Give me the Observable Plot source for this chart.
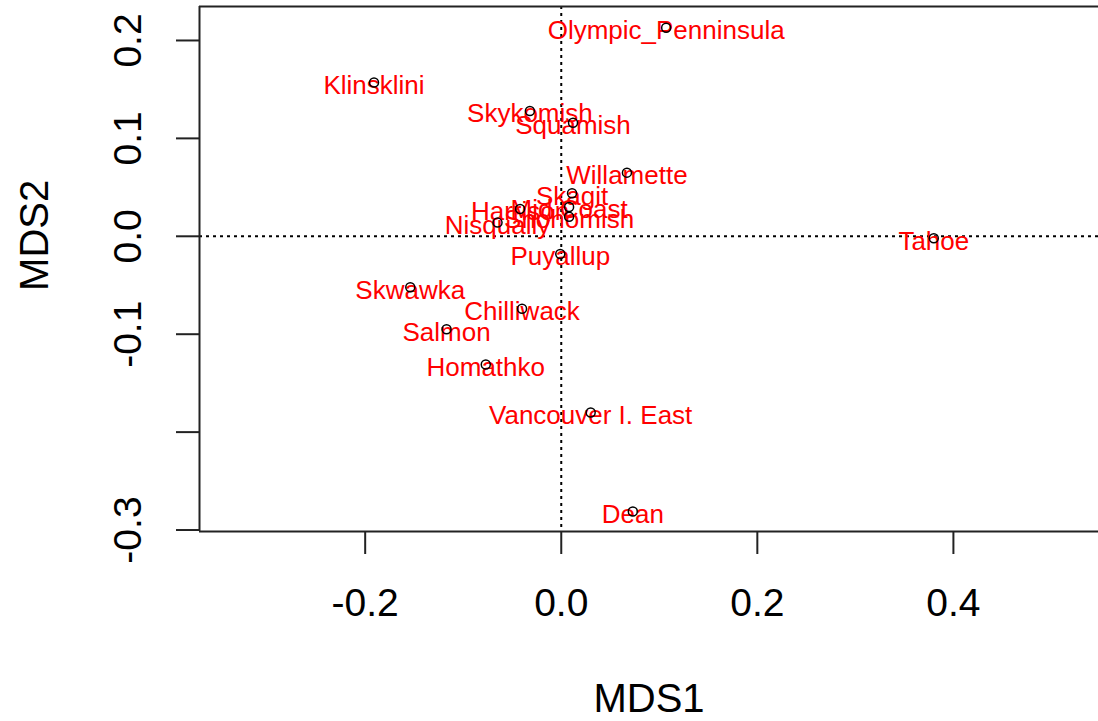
<!DOCTYPE html>
<html>
<head>
<meta charset="utf-8">
<script src="https://cdn.jsdelivr.net/npm/d3@7"></script>
<script src="https://cdn.jsdelivr.net/npm/@observablehq/plot@0.6"></script>
<style>
  html, body { margin: 0; padding: 0; background: white; }
</style>
</head>
<body>
<div id="chart"></div>
<script>
const names = ["Olympic_Penninsula", "Klinsklini", "Skykomish", "Squamish", "Willamette",
  "Skagit", "Harrison", "Mid Coast", "Nisqually", "Snohomish", "Puyallup", "Tahoe",
  "Skwawka", "Chilliwack", "Salmon", "Homathko", "Vancouver I. East", "Dean"];
const mds1 = [0.107, -0.191, -0.032, 0.012, 0.067,
  0.011, -0.042, 0.008, -0.065, 0.008, -0.001, 0.380,
  -0.154, -0.040, -0.117, -0.077, 0.030, 0.073];
const mds2 = [0.213, 0.157, 0.128, 0.116, 0.065,
  0.044, 0.028, 0.030, 0.014, 0.020, -0.018, -0.002,
  -0.052, -0.074, -0.095, -0.131, -0.180, -0.281];

const xTicks = [-0.2, 0.0, 0.2, 0.4];
const yTicks = [0.2, 0.1, 0.0, -0.1, -0.2, -0.3];
const yTickLabels = [0.2, 0.1, 0.0, -0.1, -0.3];

const xDomain = [-0.369, 0.548];
const yDomain = [-0.3015, 0.2347];

const data = names.map((n, i) => ({name: n, x: mds1[i], y: mds2[i]}));
const fmt = d => d.toFixed(1);

const chart = Plot.plot({
  width: 1098,
  height: 721,
  marginLeft: 199,
  marginTop: 6,
  marginRight: 0,
  marginBottom: 190,
  style: {fontFamily: "'Liberation Sans', Arial, sans-serif", background: "white", color: "black"},
  x: {domain: xDomain},
  y: {domain: yDomain},
  marks: [
    Plot.ruleX([0], {strokeDasharray: "3,4", strokeWidth: 2, stroke: "black"}),
    Plot.ruleY([0], {strokeDasharray: "3,4", strokeWidth: 2, stroke: "black"}),
    Plot.ruleX([xDomain[0]], {strokeWidth: 2, stroke: "#222"}),
    Plot.ruleY(yDomain, {strokeWidth: 2, stroke: "#222"}),
    Plot.axisX(xTicks, {tickSize: 23, tickPadding: 34, fontSize: 39, tickFormat: fmt, label: null, strokeWidth: 2, stroke: "#222", fill: "black"}),
    Plot.axisY(yTicks, {tickSize: 23, tickFormat: () => "", label: null, strokeWidth: 2, stroke: "#222"}),
    Plot.text(yTickLabels, {y: d => d, text: fmt, frameAnchor: "left", dx: -71, rotate: -90, fontSize: 39, fill: "black", textAnchor: "middle", lineAnchor: "middle"}),
    Plot.text(["MDS1"], {text: d => d, frameAnchor: "bottom", dy: 168, fontSize: 40, fill: "black", textAnchor: "middle", lineAnchor: "middle"}),
    Plot.text(["MDS2"], {text: d => d, y: () => 0.001, frameAnchor: "left", dx: -164, rotate: -90, fontSize: 40, fill: "black", textAnchor: "middle", lineAnchor: "middle"}),
    Plot.text(data, {x: "x", y: "y", text: "name", fill: "red", fontSize: 26, dy: 3, lineAnchor: "middle"}),
    Plot.dot(data, {x: "x", y: "y", r: 4.5, stroke: "black", strokeWidth: 1.5, fill: "none"})
  ]
});
document.getElementById("chart").appendChild(chart);
</script>
</body>
</html>
